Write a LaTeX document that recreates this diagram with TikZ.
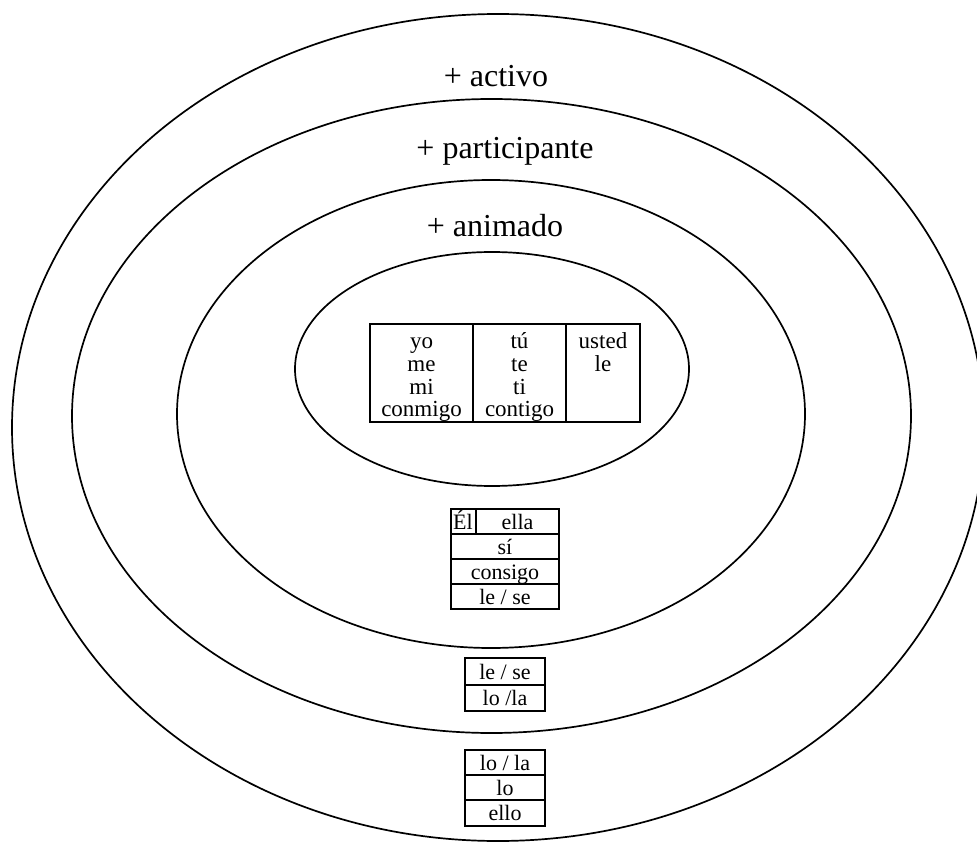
\documentclass[tikz,border=0pt]{standalone}
\usepackage{fontspec}
\setmainfont{Liberation Serif}
\begin{document}
\begin{tikzpicture}[x=1pt,y=-1pt,
  ring/.style={draw=black,line width=1.7pt},
  cellbox/.style={draw=black,line width=1.6pt},
  biglabel/.style={font=\fontsize{32}{38}\selectfont,inner sep=0pt},
  bigcell/.style={font=\fontsize{23}{24}\selectfont,inner sep=0pt,anchor=base},
  celltext/.style={font=\fontsize{22}{24}\selectfont,inner sep=0pt,anchor=base}]
\useasboundingbox (0,0) rectangle (977,842);
\fill[white] (0,0) rectangle (977,842);

% concentric rings
\draw[ring] (498,427.5) ellipse [x radius=486, y radius=413.5];
\draw[ring] (491.5,416) ellipse [x radius=419.5, y radius=317];
\draw[ring] (491,414) ellipse [x radius=314, y radius=234];
\draw[ring] (492,369) ellipse [x radius=197, y radius=117];

% ring labels
\node[biglabel] (activo) at (496,76) {+ activo};
\node[biglabel] (particip) at (505,151) {+ participante};
\node[biglabel] (animado) at (495,226) {+ animado};

% first/second/third person table
\draw[cellbox] (370,324) rectangle (640,422);
\draw[cellbox] (473,324) -- (473,422);
\draw[cellbox] (566,324) -- (566,422);
\node[bigcell] (yo) at (421.5,348) {yo};
\node[bigcell] (me) at (421.5,371) {me};
\node[bigcell] (mi) at (421.5,394) {mi};
\node[bigcell] (conmigo) at (421.5,416) {conmigo};
\node[bigcell] (tu) at (519.5,348) {tú};
\node[bigcell] (te) at (519.5,371) {te};
\node[bigcell] (ti) at (519.5,394) {ti};
\node[bigcell] (contigo) at (519.5,416) {contigo};
\node[bigcell] (usted) at (603,348) {usted};
\node[bigcell] (le) at (603,371) {le};

% third person animate table
\draw[cellbox] (451,509) rectangle (559,609);
\draw[cellbox] (451,534) -- (559,534);
\draw[cellbox] (451,559) -- (559,559);
\draw[cellbox] (451,584) -- (559,584);
\draw[cellbox] (476,509) -- (476,534);
\node[celltext] (el) at (463,529) {Él};
\node[celltext] (ella) at (517.5,529) {ella};
\node[celltext] (si) at (505,554) {sí};
\node[celltext] (consigo) at (505,579) {consigo};
\node[celltext] (lese) at (505,604) {le / se};

% participant table
\draw[cellbox] (465,658) rectangle (545,711);
\draw[cellbox] (465,685) -- (545,685);
\node[celltext] (lese2) at (505,679) {le / se};
\node[celltext] (lola) at (505,705) {lo /la};

% active table
\draw[cellbox] (465,750) rectangle (545,826);
\draw[cellbox] (465,775) -- (545,775);
\draw[cellbox] (465,800) -- (545,800);
\node[celltext] (lola2) at (505,770) {lo / la};
\node[celltext] (lo) at (505,795) {lo};
\node[celltext] (ello) at (505,820) {ello};
\end{tikzpicture}
\end{document}
